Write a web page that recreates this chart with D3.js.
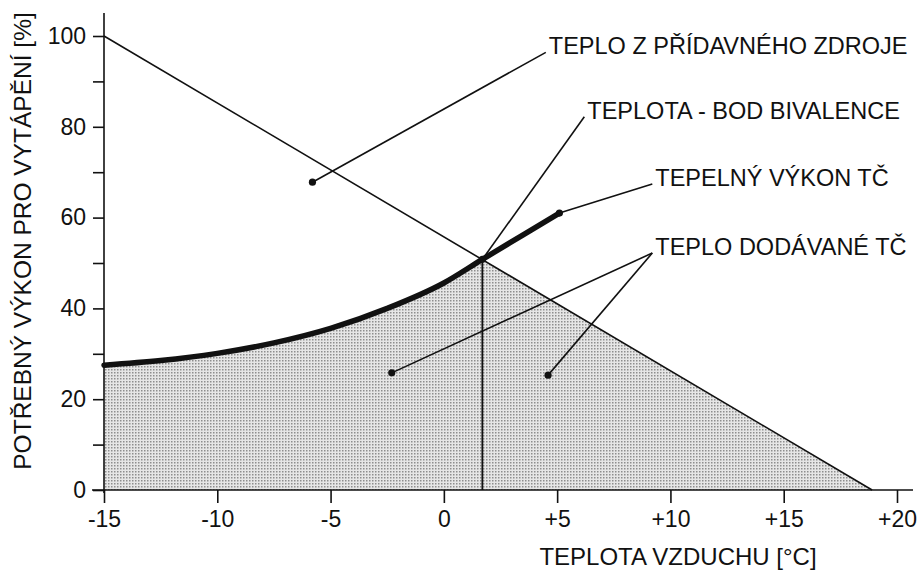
<!DOCTYPE html>
<html><head><meta charset="utf-8">
<script src="https://cdn.jsdelivr.net/npm/d3@7"></script>
<style>body{margin:0;background:#fff}svg{display:block}text{font-family:"Liberation Sans",Arial,sans-serif;fill:#111}</style>
</head><body>
<script>
// ---- data ----
const xTicks = [-15, -10, -5, 0, 5, 10, 15, 20];
const xTickLabels = ["-15", "-10", "-5", "0", "+5", "+10", "+15", "+20"];
const yTicks = [0, 10, 20, 30, 40, 50, 60, 70, 80, 90, 100];
const yTickLabels = ["0", "", "20", "", "40", "", "60", "", "80", "", "100"];
// required heating power (linear demand line)
const demandX = [-15, 18.9];
const demandY = [100, 0];
// heat pump thermal output
const heatPumpX = [-15, -12.5, -10, -7.5, -5, -2.5, 0, 1.7, 3.5, 5.1];
const heatPumpY = [27.5, 28.5, 30.1, 32.4, 35.6, 40.0, 45.6, 50.8, 56.2, 61];
// bivalence point
const bivalence = [1.7, 50.8];
// annotations: label, anchor points (data units), label point (data units)
const annLabels = ["TEPLO Z PŘÍDAVNÉHO ZDROJE", "TEPLOTA - BOD BIVALENCE", "TEPELNÝ VÝKON TČ", "TEPLO DODÁVANÉ TČ"];
const annAnchors = [[[-5.8, 67.8]], [[1.7, 50.8]], [[5.1, 61]], [[-2.3, 25.8], [4.6, 25.3]]];
const annEnds = [[4.5, 96.4], [6.2, 82.2], [9.2, 67.4], [9.2, 52.2]];
const xTitle = "TEPLOTA VZDUCHU [°C]";
const yTitle = "POTŘEBNÝ VÝKON PRO VYTÁPĚNÍ [%]";

// ---- layout ----
const W = 920, H = 575;
const svg = d3.select("body").append("svg").attr("width", W).attr("height", H);
const x = d3.scaleLinear().domain([-15, 20]).range([104, 897]);
const y = d3.scaleLinear().domain([0, 100]).range([490, 36]);

const defs = svg.append("defs");
const pat = defs.append("pattern").attr("id", "dots").attr("patternUnits", "userSpaceOnUse")
  .attr("width", 3).attr("height", 3);
pat.append("rect").attr("width", 3).attr("height", 3).attr("fill", "#e6e6e6");
pat.append("rect").attr("width", 1.5).attr("height", 1.5).attr("fill", "#8e8e8e");

// shaded area: heat pump curve up to bivalence, then demand line down to zero
const hp = heatPumpX.map((d, i) => [d, heatPumpY[i]]);
const hpLeft = hp.filter(p => p[0] <= bivalence[0]);
const lineGen = d3.line().x(d => x(d[0])).y(d => y(d[1])).curve(d3.curveMonotoneX);
const areaPath = lineGen(hpLeft) +
  "L" + x(demandX[1]) + "," + y(demandY[1]) +
  "L" + x(demandX[0]) + "," + y(0) + "Z";
svg.append("path").attr("d", areaPath).attr("fill", "url(#dots)");

// axes
const gx = svg.append("g").attr("transform", `translate(0,${y(0)})`)
  .call(d3.axisBottom(x).tickValues(xTicks).tickFormat((d, i) => xTickLabels[i]).tickSize(13).tickPadding(8));
gx.select(".domain").attr("d", `M${x(-15) - 12},0H${x(20) + 16}`);
const gy = svg.append("g").attr("transform", `translate(${x(-15)},0)`)
  .call(d3.axisLeft(y).tickValues(yTicks).tickFormat((d, i) => yTickLabels[i]).tickSize(11).tickPadding(7));
gy.select(".domain").attr("d", `M0,13V${y(0) + 3}`);
svg.selectAll(".tick text").style("font-size", "23px").style("font-family", "Liberation Sans, Arial, sans-serif").attr("fill", "#111");
svg.selectAll(".domain, .tick line").attr("stroke", "#111").attr("stroke-width", 1.6);

// demand line
svg.append("line").attr("x1", x(demandX[0])).attr("y1", y(demandY[0]))
  .attr("x2", x(demandX[1])).attr("y2", y(demandY[1])).attr("stroke", "#111").attr("stroke-width", 1.6);
// bivalence vertical
svg.append("line").attr("x1", x(bivalence[0])).attr("y1", y(bivalence[1]))
  .attr("x2", x(bivalence[0])).attr("y2", y(0)).attr("stroke", "#111").attr("stroke-width", 1.8);
// heat pump curve
svg.append("path").attr("d", lineGen(hp)).attr("fill", "none").attr("stroke", "#111")
  .attr("stroke-width", 5.5).attr("stroke-linecap", "round");

// annotations
annLabels.forEach((lab, i) => {
  const e = annEnds[i];
  annAnchors[i].forEach(a => {
    svg.append("line").attr("x1", x(a[0])).attr("y1", y(a[1])).attr("x2", x(e[0])).attr("y2", y(e[1]))
      .attr("stroke", "#111").attr("stroke-width", 1.6);
    svg.append("circle").attr("cx", x(a[0])).attr("cy", y(a[1])).attr("r", 3.6).attr("fill", "#111");
  });
  svg.append("text").attr("x", x(e[0]) + 3).attr("y", y(e[1]) + 2)
    .style("font-size", "23.5px").text(lab);
});

// titles
svg.append("text").attr("x", 678).attr("y", 565).attr("text-anchor", "middle").style("font-size", "24px").text(xTitle);
svg.append("text").attr("transform", "translate(31,241) rotate(-90)").attr("text-anchor", "middle")
  .style("font-size", "24.5px").text(yTitle);
</script>
</body></html>
